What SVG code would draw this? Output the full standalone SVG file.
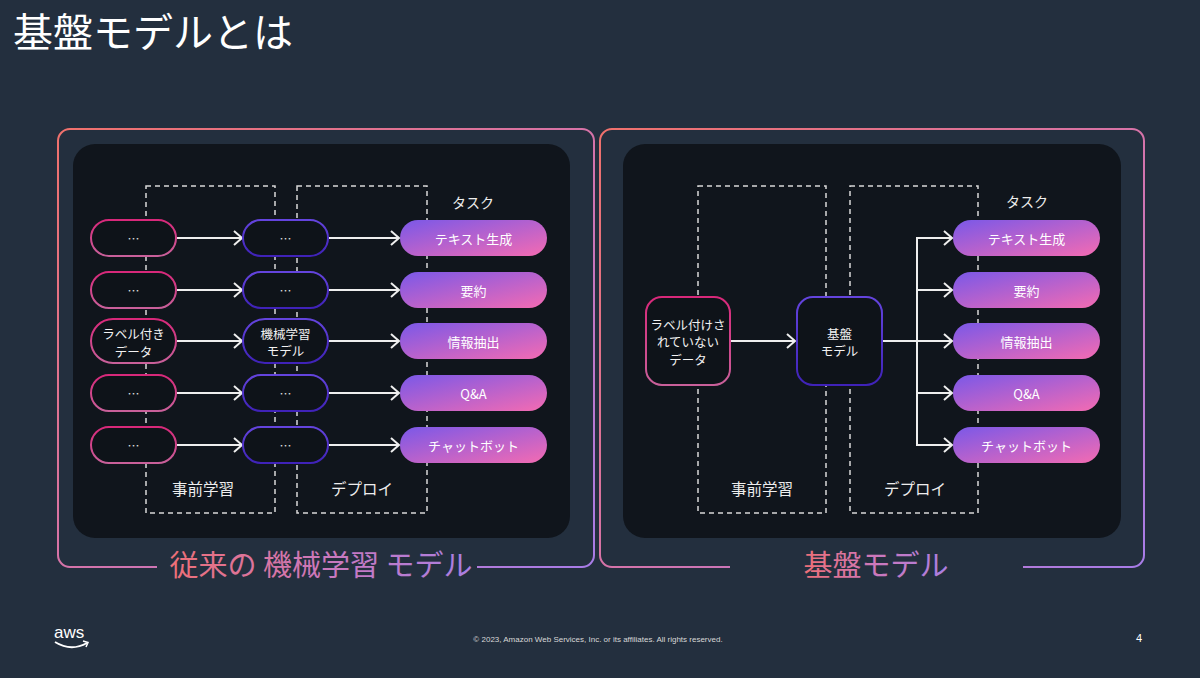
<svg xmlns="http://www.w3.org/2000/svg" width="1200" height="678" viewBox="0 0 1200 678">
<defs>
  <linearGradient id="frameGrad" x1="0" y1="0" x2="1" y2="1">
    <stop offset="0" stop-color="#F0716C"/>
    <stop offset="0.5" stop-color="#D673A8"/>
    <stop offset="1" stop-color="#A77CE8"/>
  </linearGradient>
  <linearGradient id="titleGrad" x1="0" y1="0" x2="1" y2="0">
    <stop offset="0" stop-color="#EE6F76"/>
    <stop offset="0.5" stop-color="#CC78BC"/>
    <stop offset="1" stop-color="#A97FE2"/>
  </linearGradient>
  <linearGradient id="taskGrad" x1="0" y1="0" x2="1" y2="1">
    <stop offset="0" stop-color="#7A58E8"/>
    <stop offset="1" stop-color="#F46BB2"/>
  </linearGradient>
  <linearGradient id="pinkStroke" x1="0" y1="0" x2="0" y2="1">
    <stop offset="0" stop-color="#D8287A"/>
    <stop offset="1" stop-color="#C9609A"/>
  </linearGradient>
  <linearGradient id="purpleStroke" x1="0" y1="0" x2="0" y2="1">
    <stop offset="0" stop-color="#6444DE"/>
    <stop offset="1" stop-color="#3F22B8"/>
  </linearGradient>
  <marker id="arrow" markerWidth="12" markerHeight="18" refX="9" refY="8" orient="auto" markerUnits="userSpaceOnUse">
    <path d="M1,1 L9,8 L1,15" fill="none" stroke="#EEEEEE" stroke-width="2"/>
  </marker>
  <style>
    .jp { font-family: "Noto Sans CJK JP", "Noto Sans", sans-serif; }
    .frame { fill: none; stroke: url(#frameGrad); stroke-width: 2; }
    .panel { fill: #10151C; }
    .dash { fill: none; stroke: #D8D8D8; stroke-width: 1.5; stroke-dasharray: 5 4; }
    .src { fill: #0E1319; stroke: url(#pinkStroke); stroke-width: 2; }
    .mdl { fill: #0E1319; stroke: url(#purpleStroke); stroke-width: 2; }
    .task { fill: url(#taskGrad); }
    .lbl { fill: #F2F2F2; font-size: 12.5px; text-anchor: middle; dominant-baseline: central; }
    .tlbl { fill: #FFFFFF; font-size: 13px; text-anchor: middle; dominant-baseline: central; }
    .dots { fill: #E0E0E0; font-size: 12px; text-anchor: middle; dominant-baseline: central; }
    .sec { fill: #EDEDED; font-size: 14px; text-anchor: middle; }
    .sec2 { fill: #EDEDED; font-size: 15.5px; text-anchor: middle; }
    .big { fill: url(#titleGrad); font-size: 29px; text-anchor: middle; }
    .conn { fill: none; stroke: #EEEEEE; stroke-width: 2; }
  </style>
</defs>

<rect x="0" y="0" width="1200" height="678" fill="#232F3E"/>

<text class="jp" x="13" y="47" font-size="40" fill="#FFFFFF">基盤モデルとは</text>

<!-- Left frame -->
<g id="frame-left">
  <path class="frame" d="M157,567 H70 A12,12 0 0 1 58,555 V141 A12,12 0 0 1 70,129 H582 A12,12 0 0 1 594,141 V555 A12,12 0 0 1 582,567 H477"/>
  <rect class="panel" x="73" y="144" width="497" height="394" rx="22"/>
  <text class="jp big" x="321" y="576">従来の 機械学習 モデル</text>
  <rect class="dash" x="146" y="186" width="129" height="327"/>
  <rect class="dash" x="297" y="186" width="130" height="327"/>
  <text class="jp sec2" x="203" y="495">事前学習</text>
  <text class="jp sec2" x="362" y="495">デプロイ</text>
  <text class="jp sec" x="473" y="208">タスク</text>
</g>

<!-- Right frame -->
<g id="frame-right">
  <path class="frame" d="M730,567 H612 A12,12 0 0 1 600,555 V141 A12,12 0 0 1 612,129 H1132 A12,12 0 0 1 1144,141 V555 A12,12 0 0 1 1132,567 H1023"/>
  <rect class="panel" x="623" y="144" width="498" height="394" rx="22"/>
  <text class="jp big" x="876" y="576" font-size="28">基盤モデル</text>
  <rect class="dash" x="698" y="186" width="128" height="327"/>
  <rect class="dash" x="850" y="186" width="128" height="327"/>
  <text class="jp sec2" x="762" y="495">事前学習</text>
  <text class="jp sec2" x="915" y="495">デプロイ</text>
  <text class="jp sec" x="1027" y="207">タスク</text>
</g>

<!-- Connectors -->
<g id="connectors">
  <line class="conn" x1="177" y1="238" x2="242" y2="238" marker-end="url(#arrow)"/>
  <line class="conn" x1="177" y1="290" x2="242" y2="290" marker-end="url(#arrow)"/>
  <line class="conn" x1="177" y1="341" x2="242" y2="341" marker-end="url(#arrow)"/>
  <line class="conn" x1="177" y1="393" x2="242" y2="393" marker-end="url(#arrow)"/>
  <line class="conn" x1="177" y1="445" x2="242" y2="445" marker-end="url(#arrow)"/>
  <line class="conn" x1="329" y1="238" x2="399" y2="238" marker-end="url(#arrow)"/>
  <line class="conn" x1="329" y1="290" x2="399" y2="290" marker-end="url(#arrow)"/>
  <line class="conn" x1="329" y1="341" x2="399" y2="341" marker-end="url(#arrow)"/>
  <line class="conn" x1="329" y1="393" x2="399" y2="393" marker-end="url(#arrow)"/>
  <line class="conn" x1="329" y1="445" x2="399" y2="445" marker-end="url(#arrow)"/>
  <line class="conn" x1="731" y1="341" x2="795" y2="341" marker-end="url(#arrow)"/>
  <line class="conn" x1="882" y1="341" x2="917" y2="341"/>
  <line class="conn" x1="917" y1="237" x2="917" y2="446"/>
  <line class="conn" x1="916" y1="238" x2="952" y2="238" marker-end="url(#arrow)"/>
  <line class="conn" x1="916" y1="290" x2="952" y2="290" marker-end="url(#arrow)"/>
  <line class="conn" x1="917" y1="341" x2="952" y2="341" marker-end="url(#arrow)"/>
  <line class="conn" x1="916" y1="393" x2="952" y2="393" marker-end="url(#arrow)"/>
  <line class="conn" x1="916" y1="445" x2="952" y2="445" marker-end="url(#arrow)"/>
</g>

<!-- Left: data nodes -->
<g id="l-data-1"><rect class="src" x="91" y="220" width="85" height="36" rx="18"/><text class="jp dots" x="133.5" y="238">…</text></g>
<g id="l-data-2"><rect class="src" x="91" y="272" width="85" height="36" rx="18"/><text class="jp dots" x="133.5" y="290">…</text></g>
<g id="l-data-3"><rect class="src" x="91" y="319" width="85" height="44" rx="22"/><text class="jp lbl" x="133.5" y="333">ラベル付き</text><text class="jp lbl" x="133.5" y="351">データ</text></g>
<g id="l-data-4"><rect class="src" x="91" y="375" width="85" height="36" rx="18"/><text class="jp dots" x="133.5" y="393">…</text></g>
<g id="l-data-5"><rect class="src" x="91" y="427" width="85" height="36" rx="18"/><text class="jp dots" x="133.5" y="445">…</text></g>

<!-- Left: model nodes -->
<g id="l-model-1"><rect class="mdl" x="243" y="220" width="85" height="36" rx="18"/><text class="jp dots" x="285.5" y="238">…</text></g>
<g id="l-model-2"><rect class="mdl" x="243" y="272" width="85" height="36" rx="18"/><text class="jp dots" x="285.5" y="290">…</text></g>
<g id="l-model-3"><rect class="mdl" x="243" y="319" width="85" height="44" rx="22"/><text class="jp lbl" x="285.5" y="333">機械学習</text><text class="jp lbl" x="285.5" y="350.5">モデル</text></g>
<g id="l-model-4"><rect class="mdl" x="243" y="375" width="85" height="36" rx="18"/><text class="jp dots" x="285.5" y="393">…</text></g>
<g id="l-model-5"><rect class="mdl" x="243" y="427" width="85" height="36" rx="18"/><text class="jp dots" x="285.5" y="445">…</text></g>

<!-- Left: tasks -->
<g id="l-task-1"><rect class="task" x="400" y="220" width="147" height="36" rx="18"/><text class="jp tlbl" x="473.5" y="238">テキスト生成</text></g>
<g id="l-task-2"><rect class="task" x="400" y="272" width="147" height="36" rx="18"/><text class="jp tlbl" x="473.5" y="290">要約</text></g>
<g id="l-task-3"><rect class="task" x="400" y="323" width="147" height="36" rx="18"/><text class="jp tlbl" x="473.5" y="341">情報抽出</text></g>
<g id="l-task-4"><rect class="task" x="400" y="375" width="147" height="36" rx="18"/><text class="jp tlbl" x="473.5" y="393">Q&amp;A</text></g>
<g id="l-task-5"><rect class="task" x="400" y="427" width="147" height="36" rx="18"/><text class="jp tlbl" x="473.5" y="445">チャットボット</text></g>

<!-- Right: nodes -->
<g id="r-data"><rect class="src" x="646" y="297" width="84" height="88" rx="16"/><text class="jp lbl" x="688" y="324">ラベル付けさ</text><text class="jp lbl" x="688" y="341.5">れていない</text><text class="jp lbl" x="688" y="359">データ</text></g>
<g id="r-model"><rect class="mdl" x="797" y="297" width="85" height="88" rx="16"/><text class="jp lbl" x="839.5" y="333">基盤</text><text class="jp lbl" x="839.5" y="350.5">モデル</text></g>

<g id="r-task-1"><rect class="task" x="953" y="220" width="147" height="36" rx="18"/><text class="jp tlbl" x="1026.5" y="238">テキスト生成</text></g>
<g id="r-task-2"><rect class="task" x="953" y="272" width="147" height="36" rx="18"/><text class="jp tlbl" x="1026.5" y="290">要約</text></g>
<g id="r-task-3"><rect class="task" x="953" y="323" width="147" height="36" rx="18"/><text class="jp tlbl" x="1026.5" y="341">情報抽出</text></g>
<g id="r-task-4"><rect class="task" x="953" y="375" width="147" height="36" rx="18"/><text class="jp tlbl" x="1026.5" y="393">Q&amp;A</text></g>
<g id="r-task-5"><rect class="task" x="953" y="427" width="147" height="36" rx="18"/><text class="jp tlbl" x="1026.5" y="445">チャットボット</text></g>

<!-- Footer -->
<g id="footer">
  <text x="54" y="638" font-family="Liberation Sans, Arial, sans-serif" font-size="17" fill="#FFFFFF">aws</text>
  <path d="M55,642 Q71,652 87,643" fill="none" stroke="#FFFFFF" stroke-width="1.8"/>
  <path d="M83,641 L88,642.5 L86,647" fill="none" stroke="#FFFFFF" stroke-width="1.5"/>
  <text x="598" y="642" font-family="Liberation Sans, Arial, sans-serif" font-size="8" fill="#D8D8D8" text-anchor="middle">© 2023, Amazon Web Services, Inc. or its affiliates. All rights reserved.</text>
  <text x="1139" y="642" font-family="Liberation Sans, Arial, sans-serif" font-size="11" fill="#FFFFFF" text-anchor="middle">4</text>
</g>
</svg>
